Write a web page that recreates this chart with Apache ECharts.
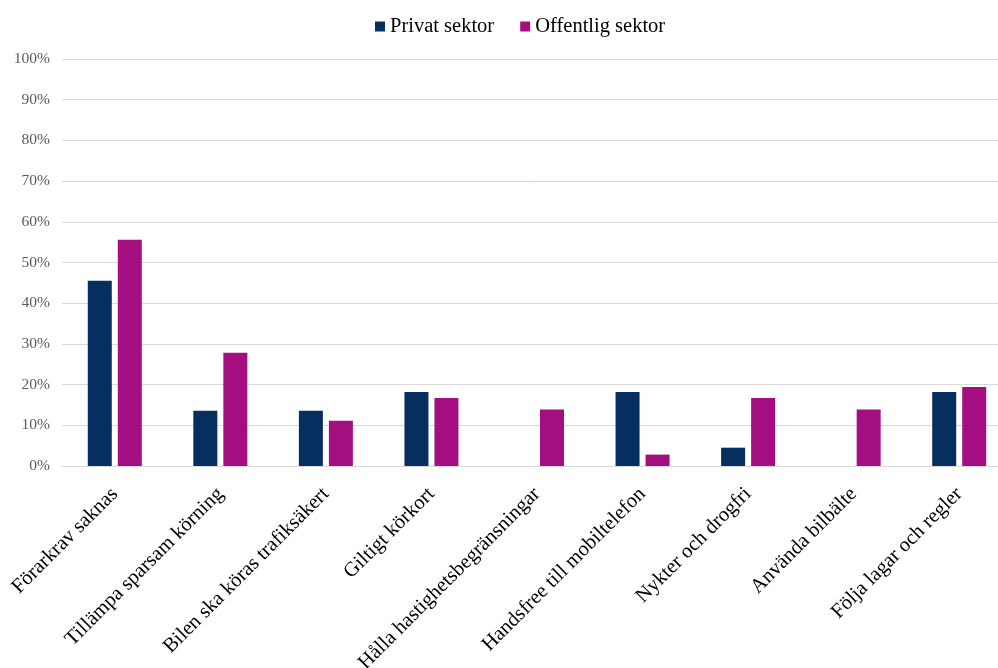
<!DOCTYPE html>
<html>
<head>
<meta charset="utf-8">
<script src="https://cdn.jsdelivr.net/npm/echarts@6/dist/echarts.min.js"></script>
<style>
  html, body { margin: 0; padding: 0; background: #fff; }
  #chart { width: 998px; height: 668px; }
</style>
</head>
<body>
<div id="chart"></div>
<script>
// Kategorier (krav på förare)
const categories = [
  'Förarkrav saknas',
  'Tillämpa sparsam körning',
  'Bilen ska köras trafiksäkert',
  'Giltigt körkort',
  'Hålla hastighetsbegränsningar',
  'Handsfree till mobiltelefon',
  'Nykter och drogfri',
  'Använda bilbälte',
  'Följa lagar och regler'
];

// Andel i procent per sektor
const privatSektor = [45.5, 13.6, 13.6, 18.2, 0, 18.2, 4.5, 0, 18.2];
const offentligSektor = [55.6, 27.8, 11.1, 16.7, 13.9, 2.8, 16.7, 13.9, 19.4];

const seriesNames = ['Privat sektor', 'Offentlig sektor'];
const seriesColors = ['#062f60', '#a50e80'];

const fontFamily = '"Liberation Serif", "Times New Roman", serif';

const chart = echarts.init(document.getElementById('chart'), null, { renderer: 'canvas' });

chart.setOption({
  animation: false,
  textStyle: { fontFamily: fontFamily },
  legend: {
    top: 11,
    left: 370,
    itemWidth: 10,
    itemHeight: 10,
    itemGap: 26,
    icon: 'rect',
    textStyle: { fontFamily: fontFamily, fontSize: 20.5, color: '#000' },
    data: seriesNames
  },
  grid: {
    left: 62,
    width: 950,
    top: 59,
    height: 407,
    outerBoundsMode: 'none',
    containLabel: false
  },
  xAxis: {
    type: 'category',
    data: categories,
    axisLine: { show: true, lineStyle: { color: '#d9d9d9', width: 1 } },
    axisTick: { show: false },
    axisLabel: {
      interval: 0,
      rotate: 45,
      margin: 25,
      fontFamily: fontFamily,
      fontSize: 20.5,
      color: '#000'
    }
  },
  yAxis: {
    type: 'value',
    min: 0,
    max: 100,
    interval: 10,
    axisLine: { show: false },
    axisTick: { show: false },
    axisLabel: {
      formatter: '{value}%',
      fontFamily: fontFamily,
      fontSize: 15.5,
      color: '#595959',
      margin: 12
    },
    splitLine: { lineStyle: { color: '#d9d9d9', width: 1 } }
  },
  series: [
    {
      name: seriesNames[0],
      type: 'bar',
      data: privatSektor,
      barWidth: 24,
      barGap: '25%',
      itemStyle: { color: seriesColors[0] }
    },
    {
      name: seriesNames[1],
      type: 'bar',
      data: offentligSektor,
      barWidth: 24,
      barGap: '25%',
      itemStyle: { color: seriesColors[1] }
    }
  ]
});
</script>
</body>
</html>
